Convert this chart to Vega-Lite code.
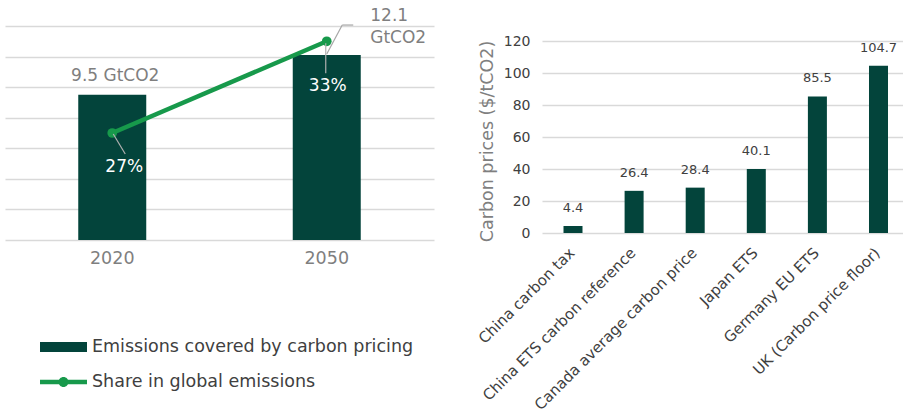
{
  "$schema": "https://vega.github.io/schema/vega-lite/v6.json",
  "background": "white",
  "padding": {"left": 5, "top": 7, "right": 0, "bottom": 0},
  "config": {
    "font": "DejaVu Sans",
    "view": {"stroke": null},
    "axis": {"gridColor": "#d9d9d9", "gridWidth": 1.5, "domain": false, "ticks": false}
  },
  "spacing": 108,
  "bounds": "flush",
  "hconcat": [
    {
      "width": 429,
      "height": 214,
      "data": {
        "values": [
          {"year": "2020", "series": "Emissions covered by carbon pricing", "value": 9.5, "label": "9.5 GtCO2"},
          {"year": "2050", "series": "Emissions covered by carbon pricing", "value": 12.1, "label": "12.1\nGtCO2"},
          {"year": "2020", "series": "Share in global emissions", "value": 27, "label": "27%"},
          {"year": "2050", "series": "Share in global emissions", "value": 33, "label": "33%"}
        ]
      },
      "encoding": {
        "x": {
          "field": "year", "type": "nominal",
          "scale": {"paddingInner": 0.683, "paddingOuter": 0.3415},
          "axis": {"title": null, "labelAngle": 0, "labelFontSize": 17.5, "labelColor": "#7f7f7f", "labelPadding": 9, "grid": false}
        }
      },
      "layer": [
        {
          "transform": [{"filter": "datum.series == 'Emissions covered by carbon pricing'"}],
          "encoding": {
            "y": {
              "field": "value", "type": "quantitative",
              "scale": {"domain": [0, 14], "nice": false},
              "axis": {"values": [0, 2, 4, 6, 8, 10, 12, 14], "labels": false, "title": null, "grid": true}
            }
          },
          "layer": [
            {
              "mark": {"type": "bar"},
              "encoding": {
                "color": {
                  "field": "series", "type": "nominal",
                  "scale": {"domain": ["Emissions covered by carbon pricing", "Share in global emissions"], "range": ["#03443b", "#17994b"]}
                }
              }
            },
            {
              "transform": [{"filter": "datum.year == '2020'"}],
              "mark": {"type": "text", "dx": 3, "dy": -19, "fontSize": 17, "color": "#7f7f7f"},
              "encoding": {"text": {"field": "label"}}
            },
            {
              "transform": [{"filter": "datum.year == '2050'"}],
              "mark": {"type": "text", "align": "left", "baseline": "middle", "dx": 43.5, "dy": -39, "fontSize": 17, "color": "#7f7f7f", "lineBreak": "\n", "lineHeight": 22},
              "encoding": {"text": {"field": "label"}}
            },
            {
              "transform": [{"filter": "datum.year == '2050'"}],
              "mark": {"type": "rule", "color": "#a6a6a6", "strokeWidth": 1.2, "xOffset": 0, "yOffset": -1, "x2Offset": 15.5, "y2Offset": -30},
              "encoding": {"x2": {"field": "year"}, "y2": {"field": "value"}}
            },
            {
              "transform": [{"filter": "datum.year == '2050'"}],
              "mark": {"type": "rule", "color": "#a6a6a6", "strokeWidth": 1.2, "xOffset": 15.5, "yOffset": -30, "x2Offset": 26.5, "y2Offset": -30},
              "encoding": {"x2": {"field": "year"}, "y2": {"field": "value"}}
            }
          ]
        },
        {
          "transform": [{"filter": "datum.series == 'Share in global emissions'"}],
          "encoding": {
            "y": {
              "field": "value", "type": "quantitative",
              "scale": {"domain": [20, 34], "nice": false, "zero": false},
              "axis": null
            }
          },
          "layer": [
            {
              "mark": {"type": "line", "strokeWidth": 4.5},
              "encoding": {
                "color": {"field": "series", "type": "nominal"}
              }
            },
            {
              "mark": {"type": "point", "filled": true, "size": 95, "opacity": 1, "color": "#17994b"}
            },
            {
              "transform": [{"filter": "datum.year == '2020'"}],
              "mark": {"type": "rule", "color": "#b0b0b0", "strokeWidth": 1.2, "xOffset": 1, "yOffset": 1, "x2Offset": 13, "y2Offset": 21},
              "encoding": {"x2": {"field": "year"}, "y2": {"field": "value"}}
            },
            {
              "transform": [{"filter": "datum.year == '2050'"}],
              "mark": {"type": "rule", "color": "#b0b0b0", "strokeWidth": 1.2, "xOffset": -1, "yOffset": 2, "x2Offset": -1, "y2Offset": 32},
              "encoding": {"x2": {"field": "year"}, "y2": {"field": "value"}}
            },
            {
              "transform": [{"filter": "datum.year == '2020'"}],
              "mark": {"type": "text", "dx": 12, "dy": 34, "fontSize": 17, "color": "white"},
              "encoding": {"text": {"field": "label"}}
            },
            {
              "transform": [{"filter": "datum.year == '2050'"}],
              "mark": {"type": "text", "dx": 1, "dy": 45, "fontSize": 17, "color": "white"},
              "encoding": {"text": {"field": "label"}}
            }
          ]
        },
        {
          "mark": {"type": "point", "filled": true, "opacity": 0},
          "encoding": {
            "color": {
              "field": "series", "type": "nominal",
              "legend": {
                "title": null, "orient": "none", "legendX": 48.5, "legendY": 311, "direction": "vertical",
                "padding": 0, "labelFontSize": 17.5, "labelColor": "#404040", "symbolSize": 400, "labelLimit": 0,
                "rowPadding": 16, "labelOffset": 18.5, "symbolOpacity": 1, "symbolStrokeWidth": 0
              }
            },
            "shape": {
              "field": "series", "type": "nominal",
              "scale": {
                "domain": ["Emissions covered by carbon pricing", "Share in global emissions"],
                "range": [
                  "M-2.35,-0.5H2.35V0.5H-2.35Z",
                  "M-2.35,-0.22H2.35V0.22H-2.35Z M0.5,0A0.5,0.5 0 1,1 -0.5,0A0.5,0.5 0 1,1 0.5,0Z"
                ]
              },
              "legend": {
                "title": null, "orient": "none", "legendX": 48.5, "legendY": 311, "direction": "vertical",
                "padding": 0, "labelFontSize": 17.5, "labelColor": "#404040", "symbolSize": 400, "labelLimit": 0,
                "rowPadding": 16, "labelOffset": 18.5, "symbolOpacity": 1, "symbolStrokeWidth": 0
              }
            }
          }
        }
      ],
      "resolve": {"scale": {"y": "independent"}}
    },
    {
      "width": 361,
      "height": 207,
      "data": {
        "values": [
          {"country": "China carbon tax", "price": 4.4},
          {"country": "China ETS carbon reference", "price": 26.4},
          {"country": "Canada average carbon price", "price": 28.4},
          {"country": "Japan ETS", "price": 40.1},
          {"country": "Germany EU ETS", "price": 85.5},
          {"country": "UK (Carbon price floor)", "price": 104.7}
        ]
      },
      "encoding": {
        "x": {
          "field": "country", "type": "nominal", "sort": null,
          "scale": {"paddingInner": 0.689, "paddingOuter": 0.2987, "align": 0.589},
          "axis": {"title": null, "labelAngle": -45, "labelFontSize": 15, "labelColor": "#404040", "labelPadding": 12, "labelOffset": -6, "labelLimit": 0}
        },
        "y": {
          "field": "price", "type": "quantitative",
          "scale": {"domain": [0, 129.6], "nice": false},
          "axis": {
            "values": [0, 20, 40, 60, 80, 100, 120], "grid": true,
            "title": "Carbon prices ($/tCO2)", "titleFontSize": 17.5, "titleFontWeight": "normal", "titleColor": "#7f7f7f",
            "titlePadding": 7, "titleY": 115,
            "labelFontSize": 14, "labelColor": "#404040", "labelPadding": 12
          }
        }
      },
      "layer": [
        {"mark": {"type": "bar", "color": "#03443b"}},
        {
          "mark": {"type": "text", "dy": -18, "fontSize": 13, "color": "#404040"},
          "encoding": {"text": {"field": "price", "type": "quantitative", "format": ".1f"}}
        }
      ]
    }
  ]
}
